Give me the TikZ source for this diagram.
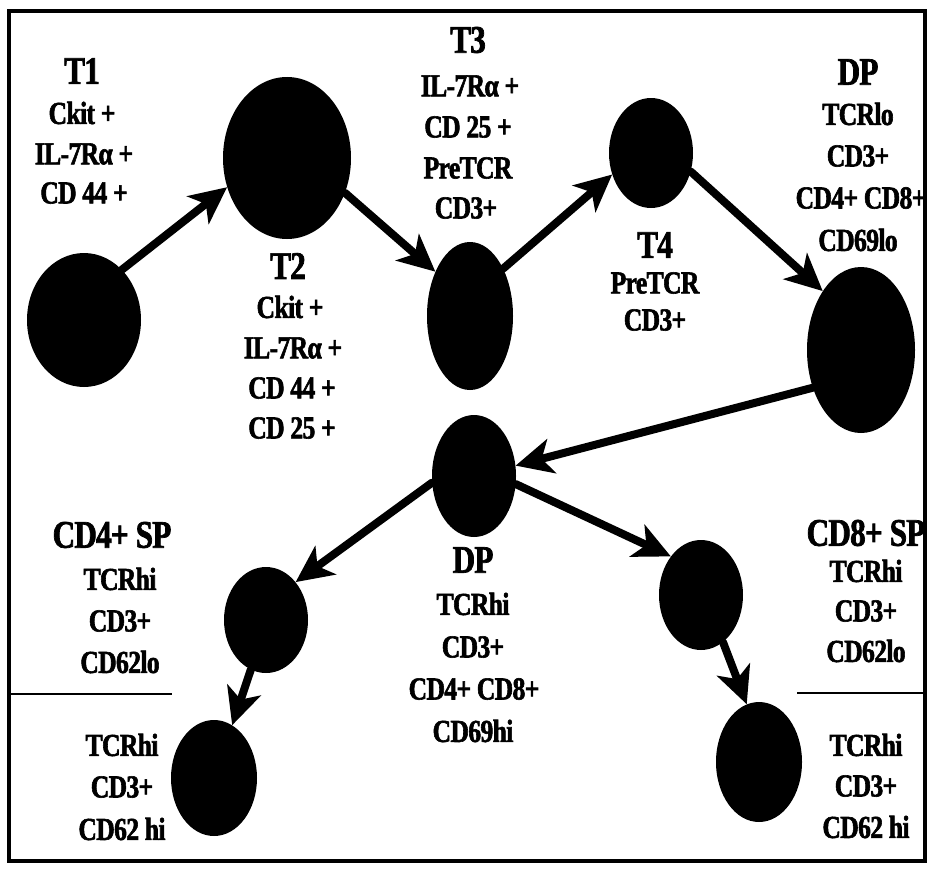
\documentclass[tikz,border=0pt]{standalone}
\usepackage{fontspec}
\newfontfamily\labfont{Liberation Serif}[FakeStretch=0.8,LetterSpace=-2,BoldFeatures={FakeBold=1.8}]
\usetikzlibrary{arrows.meta,shapes.geometric}
\begin{document}
\begin{tikzpicture}[x=1pt,y=-1pt,
  cell/.style={ellipse,fill=black,draw=none,inner sep=0pt},
  flow/.style={line width=8pt,line cap=round,-{Stealth[length=37pt,width=35pt,inset=10pt]}},
  ttl/.style={font=\labfont\bfseries\fontsize{39}{39}\selectfont,inner sep=0pt},
  txt/.style={font=\labfont\bfseries\fontsize{32}{32}\selectfont,inner sep=0pt},
  sep/.style={line width=2pt}
]
\useasboundingbox (0,0) rectangle (929,875);
\draw[line width=4.5pt] (9,11) rectangle (925,861);

% cells
\node[cell,minimum width=114pt,minimum height=134pt] (c1) at (84,320) {};
\node[cell,minimum width=128pt,minimum height=162pt] (c2) at (287,158) {};
\node[cell,minimum width=86pt,minimum height=148pt] (c3) at (470,316) {};
\node[cell,minimum width=84pt,minimum height=110pt] (c4) at (651,153) {};
\node[cell,minimum width=108pt,minimum height=166pt] (c5) at (861,350) {};
\node[cell,minimum width=84pt,minimum height=122pt] (c6) at (474,476) {};
\node[cell,minimum width=84pt,minimum height=106pt] (c7) at (266,620) {};
\node[cell,minimum width=86pt,minimum height=116pt] (c8) at (214,778) {};
\node[cell,minimum width=84pt,minimum height=110pt] (c9) at (701,595) {};
\node[cell,minimum width=86pt,minimum height=120pt] (c10) at (759,762) {};

% arrows
\draw[flow] (c1.53.6) -- (c2.206.6);
\draw[flow] (c2.-31) -- (c3.128.4);
\draw[flow] (c3.55.4) -- (c4.209.2);
\draw[flow] (c4.-25.5) -- (c5.123.7);
\draw[flow] (c5.218.5) -- (c6.14.9);
\draw[flow] (c6.189) -- (c7.52.9);
\draw[flow] (c6.-11.8) -- (c9.128.3);
\draw[flow] (c7.253) -- (c8.71.9);
\draw[flow] (c9.-65.6) -- (c10.102.7);

% separators
\draw[sep] (9,694) -- (172,694);
\draw[sep] (797,693) -- (925,693);

% T1
\node[ttl] (t1a) at (82,71) {T1};
\node[txt] (t1b) at (82,113) {Ckit +};
\node[txt] (t1c) at (84,154) {IL-7Rα +};
\node[txt] (t1d) at (84,193) {CD 44 +};
% T2
\node[ttl] (t2a) at (288,266) {T2};
\node[txt] (t2b) at (290,307) {Ckit +};
\node[txt] (t2c) at (293,348) {IL-7Rα +};
\node[txt] (t2d) at (292,388) {CD 44 +};
\node[txt] (t2e) at (292,428) {CD 25 +};
% T3
\node[ttl] (t3a) at (468,40) {T3};
\node[txt] (t3b) at (470,86) {IL-7Rα +};
\node[txt] (t3c) at (468,127) {CD 25 +};
\node[txt] (t3d) at (468,168) {PreTCR};
\node[txt] (t3e) at (466,208) {CD3+};
% T4
\node[ttl] (t4a) at (655,245) {T4};
\node[txt] (t4b) at (655,283) {PreTCR};
\node[txt] (t4c) at (655,320) {CD3+};
% DP lo
\node[ttl] (d1a) at (858,72) {DP};
\node[txt] (d1b) at (858,114) {TCRlo};
\node[txt] (d1c) at (858,156) {CD3+};
\node[txt] (d1d) at (861,198) {CD4+ CD8+};
\node[txt] (d1e) at (858,240) {CD69lo};
% DP hi
\node[ttl] (d2a) at (473,560) {DP};
\node[txt] (d2b) at (473,604) {TCRhi};
\node[txt] (d2c) at (473,647) {CD3+};
\node[txt] (d2d) at (474,689) {CD4+ CD8+};
\node[txt] (d2e) at (473,731) {CD69hi};
% CD4 SP
\node[ttl] (s4a) at (112,535) {CD4+ SP};
\node[txt] (s4b) at (120,579) {TCRhi};
\node[txt] (s4c) at (120,621) {CD3+};
\node[txt] (s4d) at (120,662) {CD62lo};
\node[txt] (s4e) at (122,745) {TCRhi};
\node[txt] (s4f) at (122,787) {CD3+};
\node[txt] (s4g) at (122,829) {CD62 hi};
% CD8 SP
\node[ttl] (s8a) at (866,533) {CD8+ SP};
\node[txt] (s8b) at (866,571) {TCRhi};
\node[txt] (s8c) at (866,611) {CD3+};
\node[txt] (s8d) at (866,651) {CD62lo};
\node[txt] (s8e) at (866,745) {TCRhi};
\node[txt] (s8f) at (866,786) {CD3+};
\node[txt] (s8g) at (866,827) {CD62 hi};
\end{tikzpicture}
\end{document}
